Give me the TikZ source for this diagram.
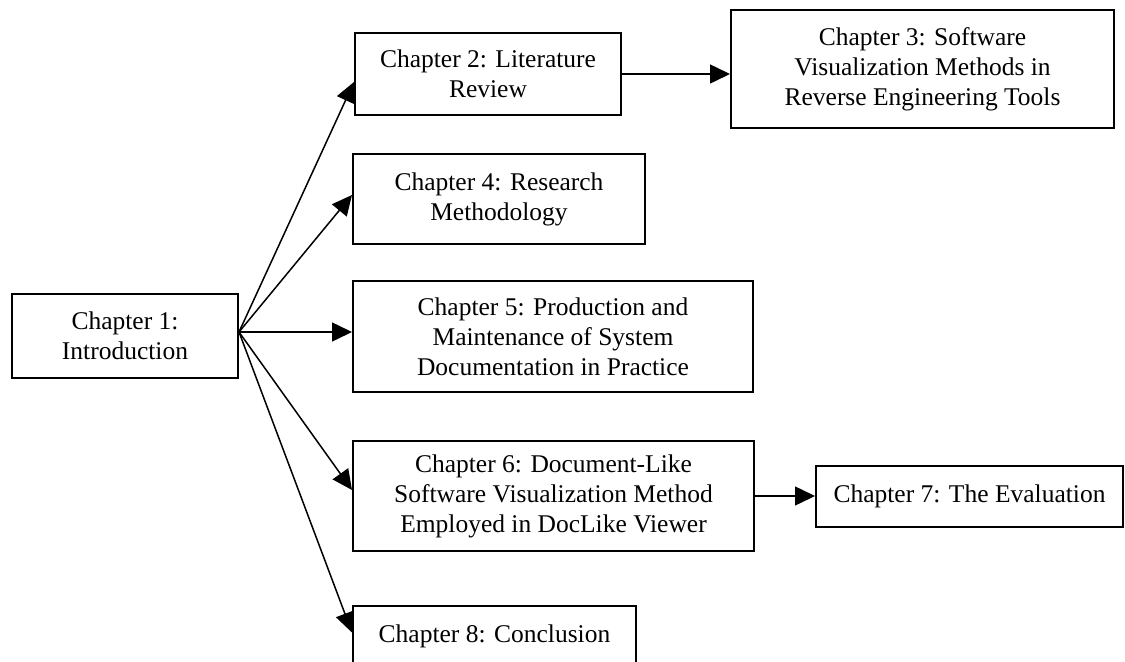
\documentclass[tikz,border=0pt]{standalone}
\usepackage{fontspec}
\setmainfont{Liberation Serif}
\usepackage{tikz}
\usetikzlibrary{arrows.meta, positioning}

\tikzset{
  chapbox/.style={draw=black, line width=1pt, align=center, inner sep=2pt,
                  font=\fontsize{12.75}{15}\selectfont},
  flow/.style={-{Triangle[length=10pt,width=9.5pt]}, line width=0.75pt}
}

\begin{document}
\begin{tikzpicture}
        \useasboundingbox (0,0) rectangle (562.5pt,330.5pt);
        % chapters down the left column
        \node[chapbox, minimum width=113pt, minimum height=42pt]
              (intro) at (62.5pt,162.5pt) {Chapter 1:\\Introduction};
        \node[chapbox, minimum width=133pt, minimum height=41pt, anchor=west]
              (lit) at (177pt,293.5pt) {Chapter 2: Literature\\Review};
        \node[chapbox, minimum width=191.5pt, minimum height=59pt,
              right=54pt of lit, yshift=2.5pt] (visrev) {Chapter 3: Software\\Visualization Methods in\\Reverse Engineering Tools};
        \node[chapbox, minimum width=146pt, minimum height=45pt, anchor=west]
              (method) at (176pt,231pt) {Chapter 4: Research\\Methodology};
        \node[chapbox, minimum width=200pt, minimum height=55.5pt, anchor=west]
              (sysdoc) at (176pt,162.25pt) {Chapter 5: Production and\\Maintenance of System\\Documentation in Practice};
        \node[chapbox, minimum width=200.5pt, minimum height=55pt, anchor=west]
              (doclike) at (176pt,82.5pt) {Chapter 6: Document-Like\\Software Visualization Method\\Employed in DocLike Viewer};
        \node[chapbox, minimum width=153.5pt, minimum height=30.5pt,
              right=30pt of doclike] (evalu) {Chapter 7: The Evaluation};
        \node[chapbox, minimum width=141.5pt, minimum height=30.5pt, anchor=west]
              (concl) at (176pt,12.25pt) {Chapter 8: Conclusion};
        % arrows
        \coordinate (hub) at ([yshift=2pt]intro.east);
        \draw[flow] (hub) -- ([yshift=-4pt]lit.west);
        \draw[flow] (hub) -- ([yshift=2pt]method.west);
        \draw[flow] (hub) -- (sysdoc.west |- hub);
        \draw[flow] (hub) -- ([yshift=3pt]doclike.west);
        \draw[flow] (hub) -- ([yshift=2pt]concl.west);
        \draw[flow] (lit.east) -- (visrev.west |- lit.east);
        \draw[flow] (doclike.east) -- (evalu.west);
      \end{tikzpicture}
\end{document}
